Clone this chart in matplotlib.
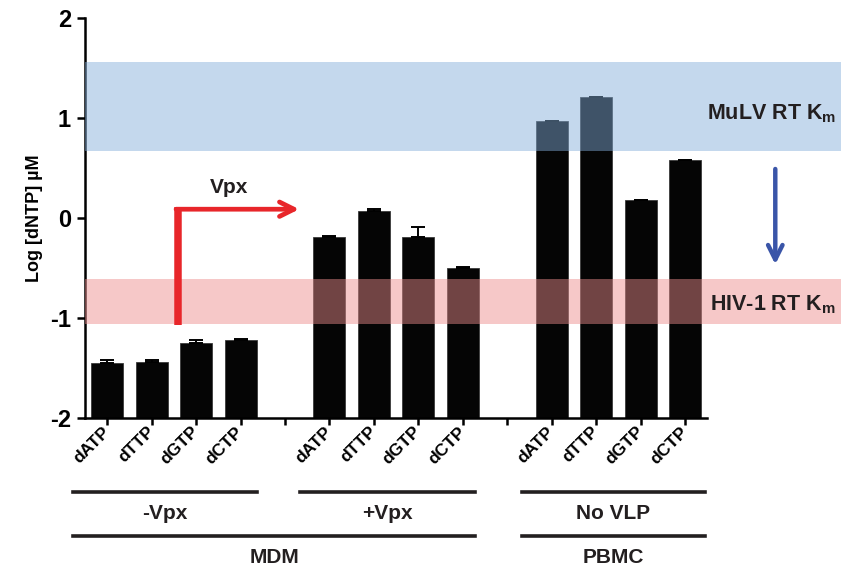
import numpy as np
import matplotlib
matplotlib.use("Agg")
from matplotlib import pyplot as plt
from matplotlib import transforms

plt.rcParams['font.family'] = ['Liberation Sans', 'DejaVu Sans']
plt.rcParams['font.weight'] = 'bold'
plt.rcParams['axes.labelweight'] = 'bold'
plt.rcParams['mathtext.fontset'] = 'custom'
plt.rcParams['mathtext.rm'] = 'Liberation Sans:bold'
plt.rcParams['mathtext.bf'] = 'Liberation Sans:bold'

# dNTP pools, log10 uM
nucleotides = ['dATP', 'dTTP', 'dGTP', 'dCTP']
mdm_minus_vpx = [-1.45, -1.44, -1.25, -1.22]
mdm_minus_err = [0.03, 0.02, 0.03, 0.01]
mdm_plus_vpx = [-0.19, 0.07, -0.19, -0.50]
mdm_plus_err = [0.01, 0.025, 0.10, 0.01]
pbmc_no_vlp = [0.97, 1.21, 0.18, 0.58]
pbmc_err = [0.0, 0.0, 0.0, 0.0]

# Km ranges (log10 uM)
mulv_km = (0.67, 1.56)
hiv_km = (-1.06, -0.61)

groups = ['-Vpx', '+Vpx', 'No VLP']
cells = ['MDM', 'PBMC']

values = mdm_minus_vpx + [np.nan] + mdm_plus_vpx + [np.nan] + pbmc_no_vlp
errs = mdm_minus_err + [0] + mdm_plus_err + [0] + pbmc_err
labels = nucleotides + [''] + nucleotides + [''] + nucleotides
x = np.arange(len(values))

fig = plt.figure(figsize=(8.41, 5.69), dpi=100)
ax = fig.add_axes([0.101, 0.265, 0.740, 0.703])

heights = np.nan_to_num(np.array(values) + 2)
ax.bar(x, heights, bottom=-2, width=0.72, color='#050505', edgecolor='#3a3a3a',
       linewidth=0.6, zorder=2)
tops = np.array(values)
ok = ~np.isnan(tops)
ax.errorbar(x[ok], tops[ok], yerr=[np.zeros(ok.sum()), np.array(errs)[ok]],
            fmt='none', ecolor='black', elinewidth=1.4, capsize=5, capthick=1.4, zorder=3)

# Km bands drawn over the bars, running past the right edge of the axes
ax.axhspan(*mulv_km, xmin=0, xmax=1.22, color=(0.51, 0.68, 0.85), alpha=0.47,
           lw=0, zorder=4, clip_on=False)
ax.axhspan(*hiv_km, xmin=0, xmax=1.22, color=(0.93, 0.55, 0.55), alpha=0.47,
           lw=0, zorder=4, clip_on=False)

ax.text(13.5, 1.05, r'MuLV RT K$_\mathregular{m}$', fontsize=15.5, ha='left', va='center',
        color='#231f20', zorder=5, clip_on=False)
ax.text(13.55, -0.86, r'HIV-1 RT K$_\mathregular{m}$', fontsize=15.5, ha='left', va='center',
        color='#231f20', zorder=5, clip_on=False)

# Km shift arrow
ax.annotate('', xy=(15.03, -0.49), xytext=(15.03, 0.52), annotation_clip=False,
            arrowprops=dict(arrowstyle='->', color='#3a55a8', lw=3.2, mutation_scale=26))

# Vpx arrow
ax.plot([1.6, 1.6], [-1.07, 0.11], color='#e8262a', lw=5.4, solid_capstyle='butt', zorder=5)
ax.annotate('', xy=(4.32, 0.09), xytext=(1.55, 0.09),
            arrowprops=dict(arrowstyle='->', color='#e8262a', lw=3.4, mutation_scale=26,
                            shrinkA=0, shrinkB=0), zorder=5)
ax.text(2.75, 0.31, 'Vpx', fontsize=15, ha='center', va='center', color='#231f20')

ax.set_xlim(-0.5, 13.5)
ax.set_ylim(-2, 2)
ax.set_yticks([-2, -1, 0, 1, 2])
ax.set_yticklabels(['-2', '-1', '0', '1', '2'], fontsize=17, fontweight='bold')
ax.set_xticks(x)
ax.set_xticklabels(labels, rotation=45, ha='right', va='center', rotation_mode='anchor',
                   fontsize=12.5, fontweight='bold')
for t in ax.get_xticklabels():
    t.set_transform(t.get_transform() + transforms.ScaledTranslation(0.06, -0.08, fig.dpi_scale_trans))
ax.set_ylabel('Log [dNTP] µM', fontsize=13, fontweight='bold', labelpad=5)
for s in ['top', 'right']:
    ax.spines[s].set_visible(False)
for s in ['left', 'bottom']:
    ax.spines[s].set_linewidth(1.8)
ax.tick_params(axis='y', length=6, width=1.8, pad=4)
ax.tick_params(axis='x', length=5, width=1.8, pad=3)

# group brackets below the axis
trans = transforms.blended_transform_factory(ax.transData, fig.transFigure)
group_spans = [(-0.76, 3.37), (4.34, 8.27), (9.33, 13.44)]
cell_spans = [(-0.76, 8.27), (9.33, 13.44)]
for name, (a, b) in zip(groups, group_spans):
    ax.plot([a, b], [0.135, 0.135], color='#231f20', lw=2.6, transform=trans, clip_on=False)
    ax.text((a + b) / 2, 0.098, name, fontsize=15, fontweight='bold', ha='center',
            va='center', transform=trans, color='#231f20')
for name, (a, b) in zip(cells, cell_spans):
    ax.plot([a, b], [0.058, 0.058], color='#231f20', lw=2.6, transform=trans, clip_on=False)
    ax.text((a + b) / 2, 0.021, name, fontsize=15, fontweight='bold', ha='center',
            va='center', transform=trans, color='#231f20')

fig.savefig('out.png', dpi=100)
